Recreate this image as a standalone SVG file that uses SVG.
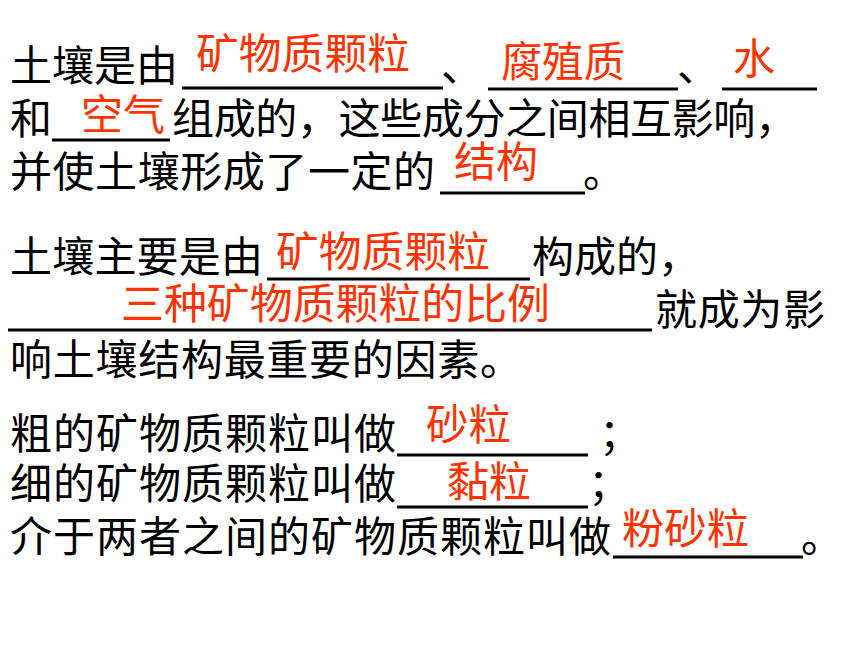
<svg xmlns="http://www.w3.org/2000/svg" width="860" height="645" viewBox="0 0 860 645">
<style>
.k{font-family:"Noto Sans CJK SC","Liberation Sans",sans-serif;font-size:42px;fill:#000}
.r{font-family:"Noto Sans CJK SC","Liberation Sans",sans-serif;font-size:42px;fill:#FF3300}
.u{stroke:#000;stroke-width:3}
</style>
<rect width="860" height="645" fill="#fff"/>
<g id="para1">
<text class="k" x="10" y="81" textLength="168" lengthAdjust="spacing">土壤是由</text>
<text class="k" x="441" y="81">、</text>
<text class="k" x="677" y="81">、</text>
<text class="k" x="10" y="134">和</text>
<text class="k" x="172" y="134" textLength="625" lengthAdjust="spacing">组成的，这些成分之间相互影响，</text>
<text class="k" x="10" y="187" textLength="425" lengthAdjust="spacing">并使土壤形成了一定的</text>
<text class="k" x="583" y="187">。</text>
<g id="blanks1">
<line class="u" x1="182" y1="88" x2="443" y2="88"/>
<line class="u" x1="488" y1="89" x2="678" y2="89"/>
<line class="u" x1="722" y1="89" x2="817" y2="89"/>
<line class="u" x1="52" y1="140" x2="170" y2="140"/>
<line class="u" x1="440" y1="193" x2="585" y2="193"/>
</g>
<text class="r" x="196" y="69" textLength="214" lengthAdjust="spacingAndGlyphs">矿物质颗粒</text>
<text class="r" x="501" y="77" textLength="124" lengthAdjust="spacingAndGlyphs">腐殖质</text>
<text class="r" x="733" y="74">水</text>
<text class="r" x="81" y="130" textLength="84" lengthAdjust="spacingAndGlyphs">空气</text>
<text class="r" x="454" y="177" textLength="84" lengthAdjust="spacingAndGlyphs">结构</text>
</g>
<g id="para2">
<text class="k" x="10" y="272" textLength="253" lengthAdjust="spacing">土壤主要是由</text>
<text class="k" x="532" y="272" textLength="168" lengthAdjust="spacing">构成的，</text>
<text class="k" x="655" y="325" textLength="170" lengthAdjust="spacing">就成为影</text>
<text class="k" x="10" y="375" textLength="512" lengthAdjust="spacing">响土壤结构最重要的因素。</text>
<g id="blanks2">
<line class="u" x1="267" y1="279" x2="530" y2="279"/>
<line class="u" x1="8" y1="330" x2="652" y2="330"/>
</g>
<text class="r" x="276" y="267" textLength="214" lengthAdjust="spacingAndGlyphs">矿物质颗粒</text>
<text class="r" x="121" y="319" textLength="429" lengthAdjust="spacingAndGlyphs">三种矿物质颗粒的比例</text>
</g>
<g id="para3">
<text class="k" x="10" y="449" textLength="386" lengthAdjust="spacing">粗的矿物质颗粒叫做</text>
<text class="k" x="599" y="449">；</text>
<text class="k" x="10" y="499" textLength="386" lengthAdjust="spacing">细的矿物质颗粒叫做</text>
<text class="k" x="588" y="499">；</text>
<text class="k" x="10" y="552" textLength="601" lengthAdjust="spacing">介于两者之间的矿物质颗粒叫做</text>
<text class="k" x="801" y="552">。</text>
<g id="blanks3">
<line class="u" x1="397" y1="455" x2="588" y2="455"/>
<line class="u" x1="397" y1="507" x2="588" y2="507"/>
<line class="u" x1="613" y1="557" x2="803" y2="557"/>
</g>
<text class="r" x="426" y="440" textLength="85" lengthAdjust="spacingAndGlyphs">砂粒</text>
<text class="r" x="447" y="497" textLength="84" lengthAdjust="spacingAndGlyphs">黏粒</text>
<text class="r" x="622" y="544" textLength="127" lengthAdjust="spacingAndGlyphs">粉砂粒</text>
</g>
</svg>
